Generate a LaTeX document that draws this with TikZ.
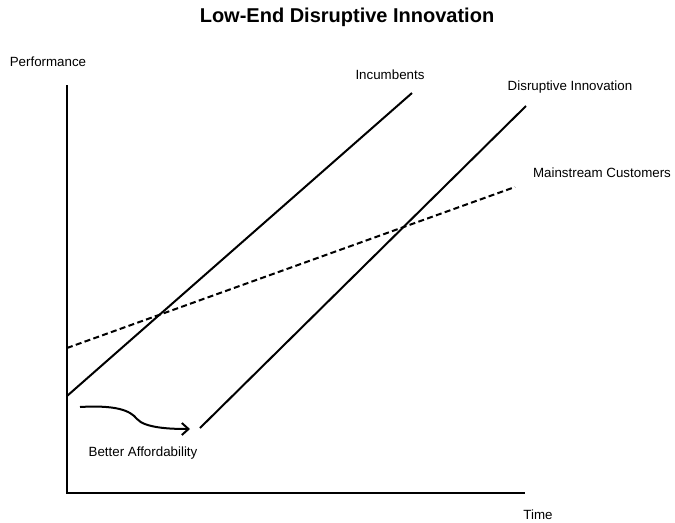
\documentclass[tikz,border=0pt]{standalone}
\usepackage{fontspec}
\setmainfont{Liberation Sans}
\usetikzlibrary{arrows.meta}
\tikzset{
  curve/.style={line width=1.5pt},
  label/.style={font=\fontsize{10}{12}\selectfont},
}
\begin{document}
\begin{tikzpicture}[x=0.75pt,y=-0.75pt]
\useasboundingbox (0,0) rectangle (675,522);
%\draw[step=50,gray,very thin] (0,0) grid (675,522);
\node[font=\bfseries\fontsize{15}{18}\selectfont] (title) at (347,17) {Low-End Disruptive Innovation};
% axes
\coordinate (top) at (67,85);
\coordinate (origin) at (67,493);
\coordinate (right) at (525,493);
\draw[curve] (top) -- (origin) -- (right);
\node[label] (perf) at (48,62) {Performance};
\node[label] (time) at (538,515) {Time};
% lines
\coordinate (inc0) at (67,396);
\coordinate (inc1) at (412,93);
\coordinate (dis0) at (200,428);
\coordinate (dis1) at (526,106);
\coordinate (mc0) at (67,348);
\coordinate (mc1) at (515,187);
\draw[curve] (inc0) -- (inc1);
\draw[curve] (dis0) -- (dis1);
\draw[curve,dash pattern=on 4.5pt off 2.5pt] (mc0) -- (mc1);
\node[label] (inc) at (390,75) {Incumbents};
\node[label] (dis) at (570,87) {Disruptive Innovation};
\node[label] (mc) at (602,173) {Mainstream Customers};
% affordability arrow
\coordinate (a0) at (80,407);
\coordinate (a1) at (137,419);
\coordinate (a2) at (190,429);
\draw[curve,-{Straight Barb[length=5pt,width=9pt]}] (a0) .. controls (115,405) and (130,410) .. (a1)
  .. controls (145,428) and (170,429) .. (a2);
\node[label] (aff) at (143,453) {Better Affordability};
\end{tikzpicture}
\end{document}
